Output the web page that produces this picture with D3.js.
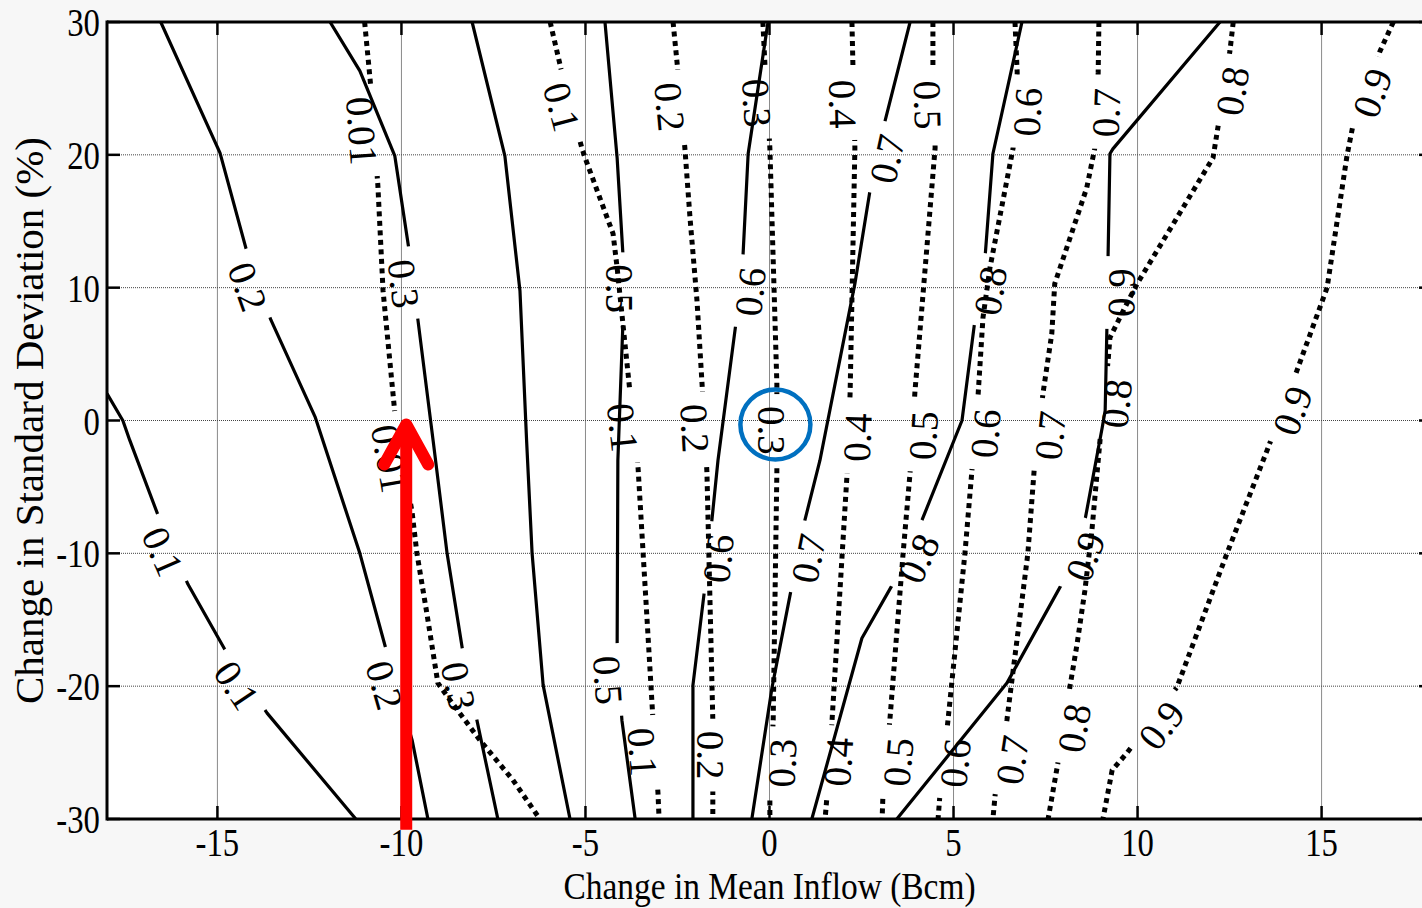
<!DOCTYPE html>
<html lang="en">
<head>
<meta charset="UTF-8">
<title>Change in Mean Inflow vs Standard Deviation</title>
<script src="https://d3js.org/d3.v7.min.js"></script>
<style>
    body { margin: 0; background: #f7f7f7; }
    svg { display: block; }
</style>
</head>
<body>
<svg id="chart" width="1422" height="908"></svg>
<script>

/** DATA **/
// x = change in mean inflow (Bcm), y = change in standard deviation (%)
var xTicks = [-15, -10, -5, 0, 5, 10, 15];
var yTicks = [30, 20, 10, 0, -10, -20, -30];

// solid contours
var solidLevels = ["0.1", "0.2", "0.3", "0.4", "0.5", "0.6", "0.7", "0.8", "0.9"];
var solidLines = [
    [[-18.0, 2.03], [-17.57, 0], [-17.38, -1.5], [-16.56, -7.52], [-15.80, -12.33], [-14.71, -17.67], [-13.65, -22.03], [-11.24, -30]],
    [[-16.54, 30], [-14.93, 20.15], [-14.17, 12.41], [-13.55, 7.59], [-12.34, 0.23], [-11.13, -10], [-10.39, -17.52], [-9.71, -24.06], [-9.28, -30]],
    [[-11.94, 30], [-11.13, 26.32], [-10.18, 19.92], [-9.77, 12.41], [-9.55, 7.52], [-9.14, -1.5], [-8.76, -10], [-8.33, -17.44], [-7.95, -22.56], [-7.38, -30]],
    [[-8.08, 30], [-7.19, 19.92], [-6.78, 9.77], [-6.60, -1.5], [-6.45, -10], [-6.15, -19.92], [-5.42, -30]],
    [[-4.47, 30], [-4.14, 19.77], [-3.98, 12.41], [-3.98, 7.52], [-4.12, -3.01], [-4.14, -17.44], [-4.01, -22.56], [-3.65, -30]],
    [[-0.04, 30], [-0.58, 20.08], [-0.72, 12.41], [-0.91, 7.37], [-1.40, -3.01], [-1.56, -7.37], [-1.75, -12.41], [-2.08, -19.92], [-2.08, -30]],
    [[3.82, 30], [3.14, 22.56], [2.73, 17.29], [2.32, 10.30], [1.37, -3.01], [0.96, -7.52], [0.61, -12.41], [0.07, -20.08], [-0.48, -30]],
    [[6.86, 30], [6.07, 20.08], [5.86, 12.41], [5.58, 7.52], [5.23, 0], [4.14, -7.52], [3.36, -12.26], [2.51, -16.39], [1.15, -30]],
    [[12.24, 30], [9.33, 20.45], [9.25, 20.08], [9.20, 12.56], [9.17, 7.37], [9.12, 0.75], [9.04, -0.53], [8.57, -7.52], [7.95, -12.26], [6.45, -19.77], [3.46, -30]]
];
var solidLabels = [
    [[-16.48, -9.85], [-14.47, -19.92]],
    [[-14.17, 10.08], [-10.45, -19.92]],
    [[-9.93, 10.30], [-8.44, -20]],
    [],
    [[-4.06, 9.92], [-4.38, -19.55]],
    [[-0.53, 9.70], [-1.40, -10.38]],
    [[3.19, 19.70], [1.05, -10.38]],
    [[5.99, 9.77], [4.04, -10.38]],
    [[9.55, 9.62], [8.57, -10.23]]
];

// dotted contours
var dottedLevels = ["0.01", "0.1", "0.2", "0.3", "0.4", "0.5", "0.6", "0.7", "0.8", "0.9"];
var dottedLines = [
    [[-11.0, 30], [-10.83, 25.04], [-10.64, 17.67], [-10.50, 9.77], [-10.18, 0.6], [-9.71, -6.92], [-9.58, -10], [-9.31, -14.51], [-9.01, -19.77], [-8.68, -21.05], [-7.87, -24.06], [-6.97, -27.07], [-6.24, -30]],
    [[-5.96, 30], [-5.64, 26.17], [-5.10, 20.53], [-5.01, 19.77], [-4.25, 14.06], [-4.14, 11.50], [-3.79, 2.11], [-3.57, -3.61], [-3.17, -22.33], [-3.03, -28.05], [-3.00, -30]],
    [[-2.62, 30], [-2.49, 26.32], [-2.30, 20.53], [-2.16, 15.26], [-1.97, 9.02], [-1.81, 1.73], [-1.70, -3.91], [-1.54, -22.56], [-1.54, -28.35], [-1.54, -30]],
    [[-0.18, 30], [-0.12, 26.54], [0.01, 20.53], [0.20, 2.78], [0.20, -3.91], [0.10, -22.56], [0.01, -28.35], [0.01, -30]],
    [[2.24, 30], [2.27, 26.32], [2.32, 20.53], [2.19, 2.03], [2.11, -3.91], [1.70, -22.56], [1.56, -28.35], [1.51, -30]],
    [[4.44, 30], [4.44, 26.32], [4.50, 20.53], [3.95, 2.11], [3.82, -3.91], [3.63, -10], [3.27, -22.56], [3.08, -28.35], [3.06, -30]],
    [[6.67, 30], [6.73, 26.17], [6.62, 20.53], [5.99, 11.50], [5.80, 7.74], [5.67, 2.03], [5.50, -3.76], [5.31, -10], [4.85, -22.56], [4.63, -28.20], [4.58, -30]],
    [[8.95, 30], [8.93, 26.17], [8.84, 20.53], [8.62, 17.52], [7.75, 10.30], [7.67, 6.54], [7.43, 2.03], [7.19, -3.76], [7.02, -10], [6.45, -22.56], [6.13, -28.20], [6.07, -30]],
    [[12.60, 30], [12.51, 27.82], [12.19, 22.18], [12.05, 19.77], [9.99, 10.30], [9.71, 8.80], [9.25, 6.24], [9.20, 4.51], [8.98, -1.50], [8.76, -8.27], [8.57, -12.78], [8.36, -16.77], [8.17, -19.92], [7.84, -25.71], [7.57, -30]],
    [[16.95, 30], [16.59, 27.82], [15.86, 22.33], [15.69, 19.92], [15.15, 10.0], [14.33, 3.76], [13.55, -2.03], [12.43, -10], [11.07, -20.08], [9.71, -25.04], [9.31, -26.32], [9.06, -30]]
];
var dottedLabels = [
    [[-11.07, 21.80], [-10.31, -2.86]],
    [[-5.64, 23.61], [-3.98, -0.53], [-3.44, -24.96]],
    [[-2.70, 23.61], [-2.02, -0.60], [-1.59, -25.19]],
    [[-0.34, 23.91], [0.07, -0.75], [0.34, -25.79]],
    [[2.0, 23.83], [2.38, -1.28], [1.86, -25.71]],
    [[4.31, 23.76], [4.17, -1.13], [3.49, -25.71]],
    [[7.0, 23.23], [5.86, -0.98], [5.04, -25.79]],
    [[9.14, 23.16], [7.62, -1.13], [6.59, -25.56]],
    [[12.57, 24.81], [9.42, 1.28], [8.27, -23.16]],
    [[16.37, 24.66], [14.20, 0.75], [10.64, -22.93]]
];

// annotations
var arrowX = -9.87, arrowFrom = -30.8, arrowTo = 0;
var circleCenter = [0.16, -0.3];

/** CHART **/
var svg = d3.select("#chart"),
    width = +svg.attr("width"),
    height = +svg.attr("height");

var x = d3.scaleLinear().domain([-18, 18]).range([107, 1432]);
var y = d3.scaleLinear().domain([-30, 30]).range([819, 22]);

var serif = "'Liberation Serif', 'Times New Roman', serif";
var labelSize = 39;

var defs = svg.append("defs");
defs.append("clipPath").attr("id", "plotclip")
  .append("rect")
    .attr("x", x(-18)).attr("y", y(30))
    .attr("width", x(18) - x(-18)).attr("height", y(-30) - y(30));

// plot background
svg.append("rect")
    .attr("x", x(-18)).attr("y", y(30))
    .attr("width", x(18) - x(-18)).attr("height", y(-30) - y(30))
    .attr("fill", "white");

// grid
var grid = svg.append("g").attr("clip-path", "url(#plotclip)");
grid.selectAll(".vgrid")
    .data(xTicks)
    .enter().append("line")
    .attr("x1", function(d) { return x(d); }).attr("x2", function(d) { return x(d); })
    .attr("y1", y(30)).attr("y2", y(-30))
    .attr("stroke", "#8a8a8a").attr("stroke-width", 1);
grid.selectAll(".hgrid")
    .data(yTicks.filter(function(d) { return d > -30 && d < 30; }))
    .enter().append("line")
    .attr("x1", x(-18)).attr("x2", x(18))
    .attr("y1", function(d) { return y(d); }).attr("y2", function(d) { return y(d); })
    .attr("stroke", "#444").attr("stroke-width", 1)
    .attr("stroke-dasharray", "1,1");

var linesG = svg.append("g").attr("clip-path", "url(#plotclip)");
var labelsG = svg.append("g");

var line = d3.line()
    .x(function(d) { return x(d[0]); })
    .y(function(d) { return y(d[1]); });

// text angle follows the line, kept in (-90, 90]
function labelAngle(pts, lab) {
    var seg = [pts[0], pts[1]];
    for (var i = 0; i < pts.length - 1; i++) {
        if ((pts[i][1] - lab[1]) * (pts[i + 1][1] - lab[1]) <= 0) {
            seg = [pts[i], pts[i + 1]];
            break;
        }
    }
    var dx = x(seg[1][0]) - x(seg[0][0]),
        dy = y(seg[1][1]) - y(seg[0][1]);
    var a = Math.atan2(dy, dx) * 180 / Math.PI;
    if (a > 90) a -= 180;
    if (a <= -90) a += 180;
    return a;
}

function drawContours(levels, lines, labels, dotted, prefix) {
    lines.forEach(function(pts, i) {
        var maskId = prefix + i;
        var mask = defs.append("mask").attr("id", maskId)
            .attr("maskUnits", "userSpaceOnUse")
            .attr("x", 0).attr("y", 0).attr("width", width).attr("height", height);
        mask.append("rect")
            .attr("x", 0).attr("y", 0).attr("width", width).attr("height", height)
            .attr("fill", "white");

        labels[i].forEach(function(lab) {
            var a = labelAngle(pts, lab);
            var t = labelsG.append("text")
                .attr("transform", "translate(" + x(lab[0]) + "," + y(lab[1]) + ") rotate(" + a + ")")
                .attr("text-anchor", "middle")
                .attr("dy", "0.35em")
                .style("font-family", serif)
                .style("font-size", labelSize + "px")
                .text(levels[i]);
            var len = t.node().getComputedTextLength();
            mask.append("rect")
                .attr("x", -(len + 24) / 2).attr("y", -20)
                .attr("width", len + 24).attr("height", 40)
                .attr("transform", "translate(" + x(lab[0]) + "," + y(lab[1]) + ") rotate(" + a + ")")
                .attr("fill", "black");
        });

        var p = linesG.append("path")
            .datum(pts)
            .attr("d", line)
            .attr("fill", "none")
            .attr("stroke", "black")
            .attr("mask", "url(#" + maskId + ")");
        if (dotted) {
            p.attr("stroke-width", 5).attr("stroke-dasharray", "5,4.5");
        } else {
            p.attr("stroke-width", 3.2).attr("stroke-linejoin", "round");
        }
    });
}

drawContours(solidLevels, solidLines, solidLabels, false, "ms");
drawContours(dottedLevels, dottedLines, dottedLabels, true, "md");

// axes frame
var axis = svg.append("g");
axis.append("line")
    .attr("x1", x(-18)).attr("x2", x(-18)).attr("y1", y(30) - 1.5).attr("y2", y(-30) + 1.5)
    .attr("stroke", "black").attr("stroke-width", 3);
axis.append("line")
    .attr("x1", x(-18)).attr("x2", width).attr("y1", y(30)).attr("y2", y(30))
    .attr("stroke", "black").attr("stroke-width", 3);
axis.append("line")
    .attr("x1", x(-18)).attr("x2", width).attr("y1", y(-30)).attr("y2", y(-30))
    .attr("stroke", "black").attr("stroke-width", 3);

// ticks (inward)
xTicks.forEach(function(d) {
    axis.append("line").attr("x1", x(d)).attr("x2", x(d))
        .attr("y1", y(-30)).attr("y2", y(-30) - 13)
        .attr("stroke", "black").attr("stroke-width", 2.5);
    axis.append("line").attr("x1", x(d)).attr("x2", x(d))
        .attr("y1", y(30)).attr("y2", y(30) + 13)
        .attr("stroke", "black").attr("stroke-width", 2.5);
});
yTicks.forEach(function(d) {
    axis.append("line").attr("x1", x(-18)).attr("x2", x(-18) + 13)
        .attr("y1", y(d)).attr("y2", y(d))
        .attr("stroke", "black").attr("stroke-width", 2.5);
    axis.append("line").attr("x1", x(18)).attr("x2", x(18) - 13)
        .attr("y1", y(d)).attr("y2", y(d))
        .attr("stroke", "black").attr("stroke-width", 2.5);
});

// tick labels
axis.selectAll(".xlab")
    .data(xTicks)
    .enter().append("text")
    .attr("transform", function(d) { return "translate(" + x(d) + "," + (y(-30) + 37) + ") scale(0.84,1)"; })
    .attr("text-anchor", "middle")
    .style("font-family", serif)
    .style("font-size", "39px")
    .text(function(d) { return d; });
axis.selectAll(".ylab")
    .data(yTicks)
    .enter().append("text")
    .attr("transform", function(d) { return "translate(100," + (y(d) + 14) + ") scale(0.82,1)"; })
    .attr("text-anchor", "end")
    .style("font-family", serif)
    .style("font-size", "40px")
    .text(function(d) { return d; });

// axis titles
svg.append("text")
    .attr("transform", "translate(" + x(0) + ",899) scale(0.88,1)")
    .attr("text-anchor", "middle")
    .style("font-family", serif)
    .style("font-size", "38px")
    .text("Change in Mean Inflow (Bcm)");
svg.append("text")
    .attr("transform", "translate(43," + y(0) + ") rotate(-90)")
    .attr("text-anchor", "middle")
    .style("font-family", serif)
    .style("font-size", "41px")
    .text("Change in Standard Deviation (%)");

// red arrow
var tipX = x(arrowX), tipY = y(arrowTo);
svg.append("line")
    .attr("x1", tipX).attr("x2", tipX)
    .attr("y1", y(arrowFrom)).attr("y2", tipY + 6)
    .attr("stroke", "#ff0000").attr("stroke-width", 12);
svg.append("path")
    .attr("d", "M" + (tipX - 22) + "," + (tipY + 44) + "L" + tipX + "," + (tipY + 4) + "L" + (tipX + 22) + "," + (tipY + 44))
    .attr("fill", "none")
    .attr("stroke", "#ff0000").attr("stroke-width", 12)
    .attr("stroke-linecap", "round").attr("stroke-linejoin", "round");

// blue circle
svg.append("circle")
    .attr("cx", x(circleCenter[0])).attr("cy", y(circleCenter[1]))
    .attr("r", 35)
    .attr("fill", "none")
    .attr("stroke", "#0070c0").attr("stroke-width", 4.5);

</script>
</body>
</html>
